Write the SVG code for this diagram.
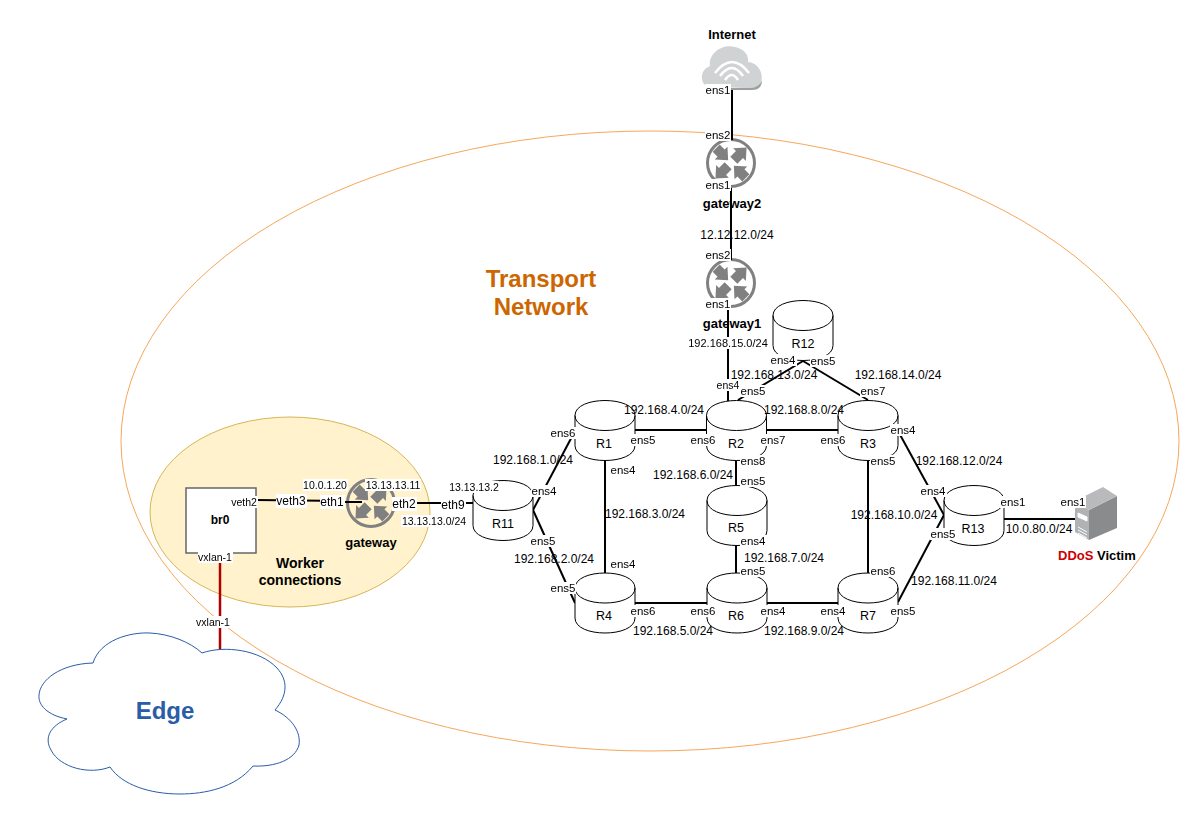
<svg xmlns="http://www.w3.org/2000/svg" width="1201" height="824" viewBox="0 0 1201 824">
<defs>
<filter id="bg" x="0" y="0" width="1" height="1" color-interpolation-filters="sRGB"><feFlood flood-color="#ffffff"/><feComposite in="SourceGraphic" operator="over"/></filter>
<g id="cyl"><path d="M0 15C0 -5 60 -5 60 15V45C60 65 0 65 0 45Z" fill="#fff" stroke="#000"/><path d="M0 15C0 35 60 35 60 15" fill="none" stroke="#000"/></g>
<path id="outa" d="M4 -5H12V-9L22 0L12 9V5H4Z" fill="#808080"/>
<path id="ina" d="M21 -5H14V-9L4 0L14 9V5H21Z" fill="#808080"/>
<g id="router"><circle r="23.5" fill="none" stroke="#808080" stroke-width="3"/><use href="#outa" transform="rotate(-45)"/><use href="#outa" transform="rotate(135)"/><use href="#ina" transform="rotate(45)"/><use href="#ina" transform="rotate(225)"/></g>
</defs>
<style>
text{font-family:"Liberation Sans",Arial,sans-serif;font-size:11.5px;fill:#000;text-anchor:middle}
.l{filter:url(#bg)}
.s{font-size:10.5px}
.m{font-size:12px}
.b{font-weight:700;font-size:13px}
.w{font-weight:700;font-size:14px}
.t{font-weight:700;font-size:24px;fill:#cc6600}
.c line{stroke:#000;stroke-width:2;fill:none}
.n{font-size:12.5px}
</style>
<ellipse cx="650" cy="441" rx="529" ry="310" fill="none" stroke="#f5a85a"/>
<g id="worker"><ellipse cx="290" cy="512" rx="140" ry="95" fill="#fff2cc" stroke="#d6b656"/><text class="w" x="300" y="568">Worker</text><text class="w" x="300" y="585">connections</text></g>
<g id="title"><text class="t" x="541" y="287">Transport</text><text class="t" x="541" y="315">Network</text></g>
<g id="gw2"><use href="#router" x="731" y="163"/></g>
<g id="gw1"><use href="#router" x="731" y="283"/></g>
<g id="gateway"><use href="#router" x="371" y="503"/></g>
<g id="connectors" class="c">
<line x1="732" y1="88" x2="732" y2="140"/><line x1="731" y1="188" x2="731" y2="260"/><line x1="728" y1="308" x2="728" y2="401"/>
<line x1="256" y1="500" x2="345" y2="501"/><line x1="345" y1="502" x2="362" y2="502"/><line x1="395" y1="503" x2="473" y2="503"/>
<line x1="220" y1="553" x2="220" y2="650" style="stroke:#b20000;stroke-width:2.5"/>
<line x1="533" y1="510" x2="575" y2="431"/><line x1="533" y1="510" x2="575" y2="603"/>
<line x1="634" y1="430" x2="706" y2="430"/><line x1="605" y1="460" x2="605" y2="573"/>
<line x1="766" y1="430" x2="838" y2="430"/><line x1="736" y1="460" x2="736" y2="485"/><line x1="736" y1="545" x2="736" y2="573"/>
<line x1="634" y1="603" x2="707" y2="603"/><line x1="767" y1="603" x2="838" y2="603"/>
<line x1="868" y1="460" x2="868" y2="573"/><line x1="898" y1="431" x2="944" y2="515"/><line x1="898" y1="602" x2="944" y2="515"/>
<line x1="1004" y1="519" x2="1075" y2="519"/>
<line x1="738" y1="400" x2="803" y2="361"/><line x1="803" y1="361" x2="868" y2="400"/>
</g>
<g id="R1"><use href="#cyl" x="575" y="400.500"/><text class="n" x="604" y="447.500">R1</text></g>
<g id="R2"><use href="#cyl" x="706.500" y="400.500"/><text class="n" x="736" y="447.500">R2</text></g>
<g id="R3"><use href="#cyl" x="838" y="400.500"/><text class="n" x="868" y="447.500">R3</text></g>
<g id="R4"><use href="#cyl" x="575" y="573"/><text class="n" x="604" y="620">R4</text></g>
<g id="R5"><use href="#cyl" x="707" y="485.500"/><text class="n" x="736" y="532">R5</text></g>
<g id="R6"><use href="#cyl" x="707" y="573"/><text class="n" x="736" y="620">R6</text></g>
<g id="R7"><use href="#cyl" x="838" y="573"/><text class="n" x="868" y="620">R7</text></g>
<g id="R11"><use href="#cyl" x="473" y="480.500"/><text class="n" x="503" y="528">R11</text></g>
<g id="R12"><use href="#cyl" x="773" y="300.500"/><text class="n" x="803" y="347.500">R12</text></g>
<g id="R13"><use href="#cyl" x="944" y="485.500"/><text class="n" x="973" y="532.500">R13</text></g>
<g id="br0"><rect x="186" y="488" width="70" height="65" fill="#fff" stroke="#666" stroke-width="1.500"/><text class="m" style="font-weight:700" x="220" y="524">br0</text></g>
<g id="internet"><text class="b" x="732" y="38.500">Internet</text><path id="cl" d="M708 87C700 84 699 70 710 66C708 54 722 43 735 47C744 49 749 55 748 62C762 63 766 82 757 86C754 88 750 88 747 88Z" fill="#d0d3d3"/><path d="M708 87C712 89 716 88 747 88C750 88 754 88 757 86C759 85 761 83 762 80C762 85 760 90 752 90H712C709 90 707 89 705 85Z" fill="#9ea0a0"/><path d="M715 73Q732 51 749 73M720 76Q732 60 743 76M725 80Q732 70 738 80" fill="none" stroke="#fff" stroke-width="2.500"/></g>
<g id="victim"><path d="M1089 510L1117 496V528L1089 540Z" fill="#8a8b8d"/><path d="M1103 487L1117 496L1089 510L1075 501Z" fill="#b9babc"/><path d="M1075 501L1089 510V540L1075 532Z" fill="#b0b2b4"/><path d="M1078 513L1087 517V521L1078 517ZM1078 527L1087 532M1078 530L1087 535M1078 533L1087 538" fill="#fff" stroke="#fff"/></g>
<g id="edge"><path d="M93 663C100 640 130 632 150 633C170 634 190 642 202 653C225 645 260 650 277 668C288 680 288 695 275 710C292 718 301 732 299 745C295 760 275 767 253 766C235 788 205 794 180 794C150 794 122 785 110 767C90 775 60 768 51 750C44 738 50 726 67 719C47 715 38 705 39 695C40 680 60 664 93 663Z" fill="#fff" stroke="#2a5ca8"/><text class="t" x="165" y="719" style="fill:#2a5ca8">Edge</text></g>
<g id="victimlabel"><text class="b" x="1058" y="560" style="text-anchor:start"><tspan style="fill:#cc0000">DDoS</tspan> Victim</text></g>
<g id="labels">
<text class="b" x="732" y="207.500">gateway2</text><text class="b" x="732" y="328">gateway1</text><text class="b" x="371" y="546.500">gateway</text>
<text class="l" x="718" y="94">ens1</text><text class="l" x="718" y="139">ens2</text><text class="l" x="718" y="189">ens1</text>
<text class="m" x="737" y="239">12.12.12.0/24</text><text class="l" x="718" y="259">ens2</text><text class="l" x="718" y="308">ens1</text>
<text class="l" style="font-size:11px" x="728" y="347">192.168.15.0/24</text><text class="m" x="774" y="379">192.168.13.0/24</text><text class="m" x="898" y="379">192.168.14.0/24</text>
<text class="l" x="783" y="364">ens4</text><text class="l" x="823" y="365">ens5</text><text class="l s" x="728" y="389">ens4</text><text class="l" x="753" y="395">ens5</text><text class="l" x="873" y="395">ens7</text>
<text class="m" x="664" y="414">192.168.4.0/24</text><text class="m" x="804" y="414">192.168.8.0/24</text>
<text class="l" x="563" y="437">ens6</text><text class="l" x="643" y="444">ens5</text><text class="l" x="703" y="444">ens6</text><text class="l" x="773" y="444">ens7</text><text class="l" x="833" y="444">ens6</text><text class="l" x="903" y="434">ens4</text>
<text class="m" x="533" y="464">192.168.1.0/24</text><text class="l" x="623" y="474">ens4</text><text class="l" x="753" y="465">ens8</text><text class="m" x="693" y="479">192.168.6.0/24</text><text class="l" x="883" y="465">ens5</text><text class="m" x="959" y="465">192.168.12.0/24</text>
<text class="l" x="753" y="485">ens5</text><text class="l" x="544" y="495">ens4</text><text class="l" x="933" y="495">ens4</text><text class="l" x="1013" y="506">ens1</text><text class="l" x="1073" y="506">ens1</text>
<text class="m" x="645" y="518">192.168.3.0/24</text><text class="m" x="894" y="519">192.168.10.0/24</text><text class="l" x="543" y="545">ens5</text><text class="l" x="943" y="538">ens5</text><text class="m" x="1039" y="533">10.0.80.0/24</text>
<text class="l" x="753" y="545">ens4</text><text class="m" x="784" y="562">192.168.7.0/24</text><text class="m" x="554" y="563">192.168.2.0/24</text><text class="l" x="623" y="568">ens4</text><text class="l" x="753" y="575">ens5</text><text class="l" x="883" y="575">ens6</text>
<text class="l" x="563" y="592">ens5</text><text class="m" x="954" y="585">192.168.11.0/24</text><text class="l" x="643" y="615">ens6</text><text class="l" x="703" y="615">ens6</text><text class="l" x="773" y="615">ens4</text><text class="l" x="833" y="615">ens4</text><text class="l" x="903" y="615">ens5</text>
<text class="m" x="673" y="635">192.168.5.0/24</text><text class="m" x="804" y="635">192.168.9.0/24</text>
<text class="l s" x="325" y="489">10.0.1.20</text><text class="l s" x="393" y="489">13.13.13.11</text><text class="l s" x="244" y="506">veth2</text><text class="l m" x="291" y="505">veth3</text><text class="l m" x="332" y="506">eth1</text><text class="l m" x="404" y="508">eth2</text><text class="l s" x="434" y="525">13.13.13.0/24</text><text class="l m" x="453" y="509">eth9</text><text class="l s" x="474" y="491">13.13.13.2</text>
<text class="l s" x="215" y="561">vxlan-1</text><text class="l s" x="213" y="626">vxlan-1</text>
</g>
</svg>
